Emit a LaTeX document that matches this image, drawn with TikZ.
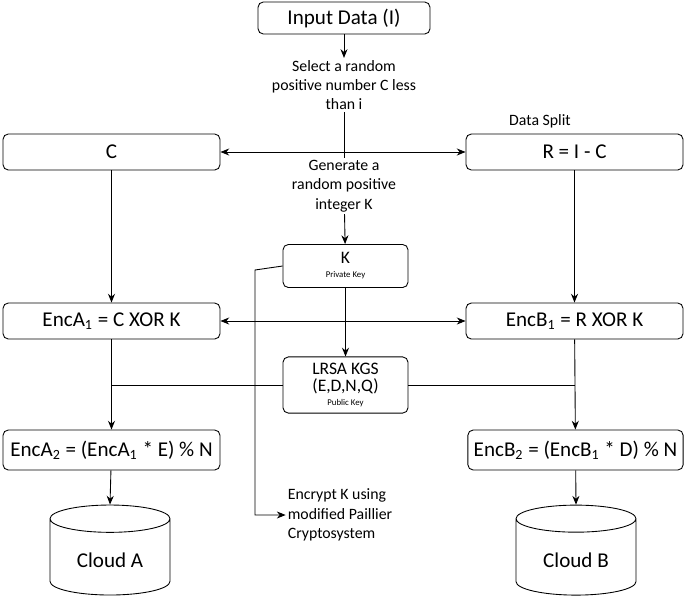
\documentclass[tikz,border=0pt]{standalone}
\usepackage{fontspec}
\setmainfont{Carlito}
\usetikzlibrary{arrows.meta,positioning,shapes.geometric}

\begin{document}
\begin{tikzpicture}[
  x=0.02cm, y=-0.02cm,
  >={Stealth[length=5pt,width=4pt]},
  line width=0.5pt,
  mybox/.style={
    draw,
    rounded corners=3pt,
    minimum width=4.34cm,
    minimum height=0.72cm,
    font=\large
    },
  keybox/.style={
    draw,
    rounded corners=3pt,
    minimum width=2.5cm,
    align=center,
    font=\normalsize
    },
  note/.style={
    align=center,
    inner sep=1pt,
    font=\small
    },
  cloud/.style={
    draw,
    cylinder,
    shape border rotate=90,
    aspect=0.35,
    minimum width=2.4cm,
    minimum height=1.8cm,
    font=\large
    }
]
\useasboundingbox (0,0) rectangle (685,612);

% top of the chain
\node[mybox, minimum width=3.44cm, minimum height=0.64cm] (input) at (344,18) {Input Data (I)};
\node[note] (select) at (344,85) {Select a random\\positive number C less\\than i};
\node[note] (split) at (540,121) {Data Split};
\node[mybox] (cbox) at (111.5,152) {C};
\node[mybox] (rbox) at (574.5,152) {R = I - C};
\node[note] (generate) at (344,186) {Generate a\\random positive\\integer K};

% keys
\node[keybox, minimum height=0.86cm] (kbox) at (345.5,266)
  {K\\[-4pt]{\tiny Private Key}};
\node[keybox, minimum height=1.0cm] (lrsa) at (345.5,385)
  {LRSA KGS\\[-2pt](E,D,N,Q)\\[-4pt]{\tiny Public Key}};

% encryption steps
\node[mybox] (enca1) at (111.5,321) {EncA\textsubscript{1} = C XOR K};
\node[mybox] (encb1) at (574.5,321) {EncB\textsubscript{1} = R XOR K};
\node[mybox, minimum height=0.8cm] (enca2) at (111.5,450) {EncA\textsubscript{2} = (EncA\textsubscript{1} * E) \% N};
\node[mybox, minimum width=4.3cm, minimum height=0.8cm] (encb2) at (575.5,450) {EncB\textsubscript{2} = (EncB\textsubscript{1} * D) \% N};
\node[note, align=left] (paillier) at (340,515) {Encrypt K using\\modified Paillier\\Cryptosystem};

% clouds
\node[cloud] (clouda) at (110,560) {Cloud A};
\node[cloud] (cloudb) at (576,560) {Cloud B};

\coordinate (kturn) at (255,270);
\coordinate (pturn) at (255,515);
\coordinate (la) at (111.5,385);
\coordinate (lb) at (574.5,385);

\draw[->] (input) -- (select);
\draw (select) -- (generate);
\draw[->] (generate) -- (kbox);
\draw[<->] (cbox) -- (rbox);
\draw[<->] (enca1) -- (encb1);
\draw[->] (cbox) -- (enca1);
\draw[->] (rbox) -- (encb1);
\draw[->] (kbox) -- (lrsa);
\draw[->] (kbox.west) -- (kturn) -- (pturn) -- (paillier.west);
\draw (la) -- (lrsa.west);
\draw (lrsa.east) -- (lb);
\draw[->] (enca1) -- (enca2);
\draw[->] (encb1) -- (encb2);
\draw[->] (enca2) -- (clouda.top);
\draw[->] (encb2) -- (cloudb.top);

\end{tikzpicture}
\end{document}
